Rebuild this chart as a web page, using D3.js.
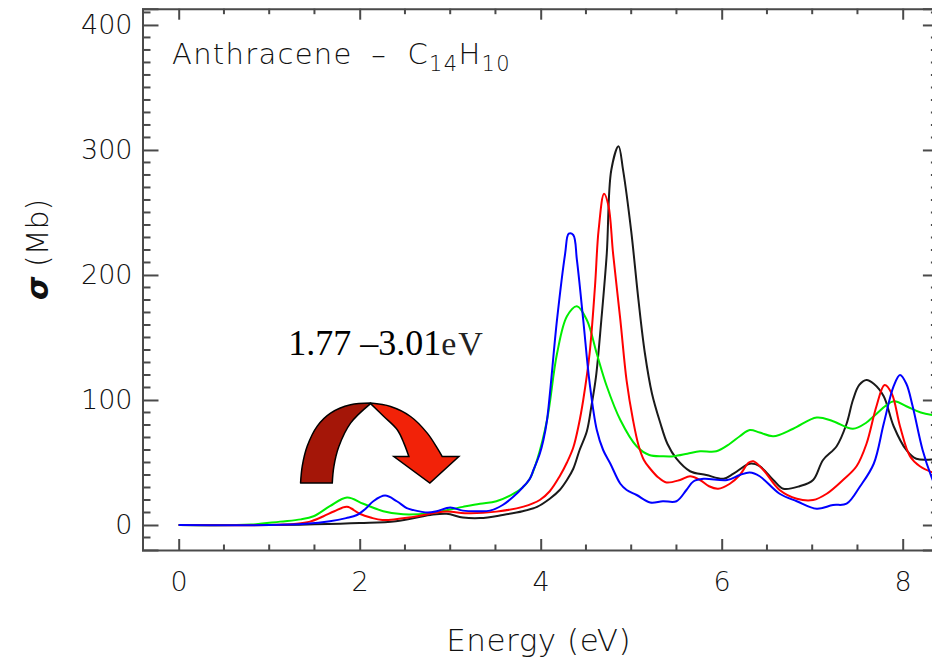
<!DOCTYPE html>
<meta charset="utf-8">
<style>
body { margin: 0; background: #fff; }
.axis path, .axis line { fill: none; stroke: #4a4a4a; stroke-width: 2; }
.tick text { font-family: "DejaVu Sans", sans-serif; font-weight: 200; font-size: 27px; fill: #111; }
.lbl { font-family: "DejaVu Sans", sans-serif; font-weight: 200; fill: #111; }
.curve { fill: none; stroke-width: 2; stroke-linejoin: round; }
</style>
<body>
<div id="vis-container"></div>
<script src="https://cdn.jsdelivr.net/npm/d3@7"></script>
<script>

// photo-absorption cross section (energy eV, sigma Mb)
var blackE = [0, 1.0, 1.5, 2.0, 2.4, 2.78, 2.96, 3.14, 3.33, 3.58, 3.80, 3.96, 4.10, 4.21, 4.29, 4.36, 4.43, 4.51, 4.56, 4.61, 4.67, 4.73, 4.78, 4.86, 4.91, 5.0, 5.08, 5.15, 5.23, 5.32, 5.40, 5.50, 5.65, 5.83, 6.02, 6.13, 6.31, 6.42, 6.57, 6.68, 6.86, 7.01, 7.12, 7.27, 7.38, 7.45, 7.52, 7.60, 7.68, 7.79, 7.90, 8.04, 8.15, 8.40];
var blackV = [0, 0, 0.5, 1.5, 3, 8, 9, 6, 5.5, 8, 11, 14.5, 21, 28, 36, 45, 60, 75, 95, 118, 164, 217, 284, 303, 284, 235, 180, 138, 105, 82, 65, 53, 43, 40, 37, 41, 49, 47, 36, 29, 31, 36, 52, 63, 81, 100, 112, 116, 113, 103, 79, 60, 53, 53];

var redE = [0, 1.0, 1.3, 1.45, 1.60, 1.72, 1.86, 2.0, 2.12, 2.25, 2.59, 2.85, 2.96, 3.22, 3.51, 3.81, 3.99, 4.10, 4.21, 4.29, 4.36, 4.42, 4.47, 4.54, 4.60, 4.64, 4.70, 4.75, 4.80, 4.88, 4.95, 5.02, 5.08, 5.14, 5.21, 5.30, 5.39, 5.54, 5.65, 5.76, 5.86, 5.96, 6.09, 6.20, 6.30, 6.35, 6.46, 6.64, 6.83, 7.01, 7.16, 7.34, 7.49, 7.60, 7.71, 7.80, 7.88, 7.97, 8.08, 8.19, 8.40];
var redV = [0, 0, 1, 2.7, 7, 11, 14.5, 9, 6, 4, 6.5, 9.9, 10.7, 9.3, 10.7, 14.7, 20, 27, 39, 50, 62, 80, 100, 137, 191, 236, 265, 255, 217, 164, 115, 84, 64, 52, 45, 38, 34, 36, 39, 36, 31, 29, 33, 40, 50, 51, 44, 28, 21, 20, 25, 36, 47, 65, 95, 112, 105, 79, 55, 47, 40];

var greenE = [0, 0.8, 1.12, 1.35, 1.49, 1.67, 1.86, 2.04, 2.26, 2.48, 2.78, 3.14, 3.33, 3.51, 3.70, 3.80, 3.88, 3.96, 4.07, 4.18, 4.29, 4.40, 4.51, 4.62, 4.73, 4.88, 5.06, 5.20, 5.35, 5.47, 5.62, 5.76, 5.94, 6.09, 6.20, 6.31, 6.42, 6.57, 6.79, 7.05, 7.23, 7.45, 7.60, 7.68, 7.90, 8.04, 8.20, 8.40];
var greenV = [0, 0.3, 2.7, 4.5, 7, 15, 22, 17, 11, 8.5, 9.5, 14.5, 17, 19, 25, 30, 37, 52, 84, 137, 167, 175, 164, 137, 111, 84, 63, 56, 55, 55, 57, 59, 59, 65, 71, 76, 74, 71, 77, 86, 83, 77, 82, 87, 99, 95, 90, 87];

var blueE = [0, 1.0, 1.4, 1.67, 1.85, 1.97, 2.08, 2.15, 2.28, 2.41, 2.52, 2.59, 2.75, 2.85, 3.0, 3.14, 3.30, 3.44, 3.58, 3.70, 3.80, 3.88, 3.92, 3.99, 4.03, 4.07, 4.18, 4.27, 4.31, 4.36, 4.40, 4.47, 4.54, 4.62, 4.69, 4.77, 4.88, 4.95, 5.06, 5.21, 5.35, 5.50, 5.61, 5.69, 5.80, 6.06, 6.20, 6.31, 6.42, 6.64, 6.83, 7.05, 7.23, 7.38, 7.53, 7.68, 7.79, 7.90, 7.97, 8.04, 8.11, 8.22, 8.32, 8.40];
var blueV = [0, 0, 1, 3, 5.5, 8, 14, 19, 23.5, 19, 13.5, 12, 10, 11, 14, 11.5, 11, 11.5, 16, 22.7, 30, 37, 44, 57, 68, 84, 164, 217, 233, 232, 212, 164, 114, 76, 60, 49, 33, 28, 24, 18, 19, 19, 28, 35, 37, 36, 40, 42, 39, 25, 19, 13, 16, 17, 31, 49, 81, 111, 120, 113, 95, 60, 38, 25];

var seriesColors = ['#1a1a1a', '#00ee00', '#ff0000', '#0000ff'];

var xTicks = [0, 2, 4, 6, 8];
var yTicks = [0, 100, 200, 300, 400];

var W = 932, H = 664;

var svg = d3.select("#vis-container").append("svg")
	.attr("width", W)
	.attr("height", H);

var x = d3.scaleLinear().domain([-0.4, 8.4]).range([142.5, 938.9]);
var y = d3.scaleLinear().domain([-20, 413]).range([550, 8.7]);

var x0 = x.range()[0], x1 = x.range()[1];
var y0 = y.range()[0], y1 = y.range()[1];

// clip for curves
svg.append("clipPath").attr("id", "plotclip")
	.append("rect")
	.attr("x", x0).attr("y", y1)
	.attr("width", x1 - x0).attr("height", y0 - y1);

// minor ticks every 0.5 eV and 10 Mb
var xMinor = d3.range(0, 8.41, 0.5).filter(function(d){ return d % 2 !== 0; });
var yMinor = d3.range(-10, 411, 10).filter(function(d){ return d % 100 !== 0; });

var axB = svg.append("g").attr("class", "axis").attr("transform", "translate(0," + y0 + ")");
axB.call(d3.axisBottom(x).tickValues(xTicks).tickSize(-11).tickPadding(22).tickFormat(d3.format("d")));
axB.selectAll(".tick text").attr("dy", "0.71em");
axB.append("g").selectAll("line").data(xMinor).enter().append("line")
	.attr("x1", function(d){ return x(d); }).attr("x2", function(d){ return x(d); })
	.attr("y1", 0).attr("y2", -5.5).attr("stroke", "#4a4a4a").attr("stroke-width", 1.5);

var axT = svg.append("g").attr("class", "axis").attr("transform", "translate(0," + y1 + ")");
axT.call(d3.axisTop(x).tickValues(xTicks).tickSize(-11).tickFormat(""));
axT.append("g").selectAll("line").data(xMinor).enter().append("line")
	.attr("x1", function(d){ return x(d); }).attr("x2", function(d){ return x(d); })
	.attr("y1", 0).attr("y2", 5.5).attr("stroke", "#4a4a4a").attr("stroke-width", 1.5);

var axL = svg.append("g").attr("class", "axis").attr("transform", "translate(" + x0 + ",0)");
axL.call(d3.axisLeft(y).tickValues(yTicks).tickSize(-16).tickPadding(10).tickFormat(d3.format("d")));
axL.selectAll(".tick text").attr("x", -10);
axL.append("g").selectAll("line").data(yMinor).enter().append("line")
	.attr("y1", function(d){ return y(d); }).attr("y2", function(d){ return y(d); })
	.attr("x1", 0).attr("x2", 8).attr("stroke", "#4a4a4a").attr("stroke-width", 1.5);

var axR = svg.append("g").attr("class", "axis").attr("transform", "translate(" + x1 + ",0)");
axR.call(d3.axisRight(y).tickValues(yTicks).tickSize(-16).tickFormat(""));
axR.append("g").selectAll("line").data(yMinor).enter().append("line")
	.attr("y1", function(d){ return y(d); }).attr("y2", function(d){ return y(d); })
	.attr("x1", 0).attr("x2", -8).attr("stroke", "#4a4a4a").attr("stroke-width", 1.5);

svg.selectAll(".axis .domain").attr("stroke-width", 2.2);

// curves
var line = d3.line()
	.x(function(d){ return x(d[0]); })
	.y(function(d){ return y(d[1]); })
	.curve(d3.curveCatmullRom.alpha(0.5));

var series = [[blackE, blackV], [greenE, greenV], [redE, redV], [blueE, blueV]];
series.forEach(function(s, i) {
	var pts = s[0].map(function(e, j){ return [e, s[1][j]]; });
	svg.append("path")
		.attr("class", "curve")
		.attr("clip-path", "url(#plotclip)")
		.attr("stroke", seriesColors[i])
		.attr("d", line(pts));
});

// title
var title = svg.append("text").attr("class", "lbl")
	.attr("x", 172).attr("y", 64)
	.style("font-size", "29px")
	.style("letter-spacing", "1.3px");
title.append("tspan").text("Anthracene ");
title.append("tspan").attr("dx", 8).text("\u2013");
title.append("tspan").attr("dx", 10).text(" C");
title.append("tspan").attr("dy", 7).style("font-size", "21px").text("14");
title.append("tspan").attr("dy", -7).text("H");
title.append("tspan").attr("dy", 7).style("font-size", "21px").text("10");

// axis labels
svg.append("text").attr("class", "lbl")
	.attr("x", (x0 + 938.9) / 2 - 2).attr("y", 651)
	.attr("text-anchor", "middle")
	.style("font-size", "31px")
	.style("letter-spacing", "0.5px")
	.text("Energy (eV)");

var yl = svg.append("text").attr("class", "lbl")
	.attr("transform", "translate(48," + ((y0 + y1) / 2 - 30) + ") rotate(-90)")
	.attr("text-anchor", "middle")
	.style("font-size", "30px");
yl.append("tspan").style("font-weight", "bold").style("font-style", "italic").text("\u03c3");
yl.append("tspan").text("  (Mb)");

// annotation
var ann = svg.append("text")
	.attr("x", x(1.21)).attr("y", y(136))
	.style("font-family", "'Liberation Serif', 'Times New Roman', serif")
	.style("font-size", "36px")
	.attr("fill", "#000");
ann.append("tspan").text("1.77 \u20133.01");
ann.append("tspan").style("font-size", "34px").style("letter-spacing", "2px").attr("fill", "#222").text("eV");

// curved arrow, outline offsets from its apex
var ax = x(2.12), ay = y(97.5);
var darkOuter = [[-70, 80], [-68.3, 63], [-63.3, 43], [-53.3, 23], [-40, 10], [-20, 1.7], [0, 0]];
var darkInner = [[0, 0.5], [-20, 20], [-31.7, 43.4], [-36.7, 63.4], [-38.3, 80]];
var brightOuter = [[0, 0], [20, 3.4], [40, 13.4], [56.7, 30], [66.7, 45], [71.7, 53.4]];
var brightInner = [[38.3, 53.4], [33.3, 40], [26.7, 26.7], [13.3, 13.4], [0, 0.5]];
var head = [[88.3, 53.4], [59.3, 80], [23.3, 53.4]];

var arc = d3.line()
	.x(function(d){ return ax + d[0]; })
	.y(function(d){ return ay + d[1]; })
	.curve(d3.curveCatmullRom);
var straight = d3.line()
	.x(function(d){ return ax + d[0]; })
	.y(function(d){ return ay + d[1]; });

svg.append("path")
	.attr("d", arc(darkOuter) + arc(darkInner).replace(/^M/, "L") + "Z")
	.attr("fill", "#a41608").attr("stroke", "#000").attr("stroke-width", 1.5)
	.attr("stroke-linejoin", "round");
svg.append("path")
	.attr("d", arc(brightOuter) + straight(head).replace(/^M/, "L") + arc(brightInner).replace(/^M/, "L") + "Z")
	.attr("fill", "#f22208").attr("stroke", "#000").attr("stroke-width", 1.5)
	.attr("stroke-linejoin", "miter");
</script>
</body>
</html>
